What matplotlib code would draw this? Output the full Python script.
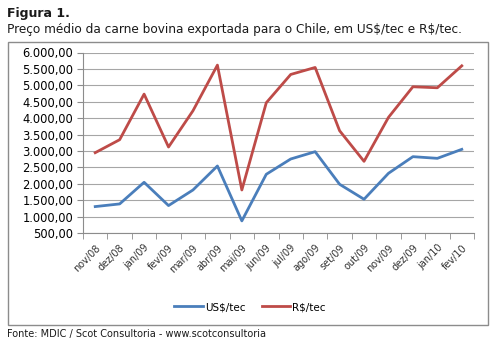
import numpy as np
import matplotlib
matplotlib.use('Agg')
import matplotlib.pyplot as plt
from matplotlib.patches import Rectangle
from matplotlib.ticker import FuncFormatter, FixedLocator

meses = ['nov/08', 'dez/08', 'jan/09', 'fev/09', 'mar/09', 'abr/09', 'mai/09', 'jun/09',
         'jul/09', 'ago/09', 'set/09', 'out/09', 'nov/09', 'dez/09', 'jan/10', 'fev/10']
us_tec = [1305, 1386, 2045, 1336, 1811, 2542, 869, 2289,
          2755, 2978, 1985, 1528, 2319, 2826, 2775, 3049]
rs_tec = [2947, 3343, 4732, 3120, 4225, 5615, 1811, 4469,
          5331, 5544, 3617, 2684, 4023, 4956, 4925, 5594]

plt.rcParams['font.family'] = 'DejaVu Sans'
plt.rcParams['text.parse_math'] = False

W, H = 497, 345
fig = plt.figure(figsize=(W / 100, H / 100), dpi=100)

def px(x0, y0, x1, y1):
    # pixel box -> figure fraction [left, bottom, width, height]
    return [x0 / W, 1 - y1 / H, (x1 - x0) / W, (y1 - y0) / H]

# titles
fig.text(7 / W, 1 - 13 / H, 'Figura 1.', fontsize=9, fontweight='bold', va='center', color='#1a1a1a')
fig.text(7 / W, 1 - 29 / H, 'Preço médio da carne bovina exportada para o Chile, em US$/tec e R$/tec.',
         fontsize=8.7, va='center', color='#1a1a1a')
fig.text(7 / W, 1 - 334 / H, 'Fonte: MDIC / Scot Consultoria - www.scotconsultoria',
         fontsize=7, va='center', color='#1a1a1a')

# chart frame
fig.patches.append(Rectangle((8 / W, 1 - 325 / H), 480 / W, 283 / H, transform=fig.transFigure,
                             fill=False, edgecolor='#8c8c8c', linewidth=1))

ax = fig.add_axes(px(83, 52.5, 474, 233))
x = np.arange(len(meses))
ax.plot(x, us_tec, color='#4A7EBB', linewidth=2, label='US$/tec')
ax.plot(x, rs_tec, color='#BE4B48', linewidth=2, label='R$/tec')

ax.set_xlim(-0.5, len(meses) - 0.5)
ax.set_ylim(500, 6000)
ax.set_yticks(np.arange(500, 6001, 500))
ax.yaxis.set_major_formatter(FuncFormatter(lambda v, p: f'{v:,.2f}'.replace(',', 'X').replace('.', ',').replace('X', '.')))
ax.yaxis.grid(True, color='#a6a6a6', linewidth=0.8)
ax.set_axisbelow(True)

ax.set_xticks(x)
ax.set_xticklabels(meses, rotation=45, ha='right', rotation_mode='anchor', fontsize=7, color='#333333')
ax.xaxis.set_minor_locator(FixedLocator(np.arange(-0.5, len(meses), 1)))
ax.tick_params(axis='x', which='major', length=0, pad=7)
ax.tick_params(axis='x', which='minor', length=4, color='#8c8c8c')
ax.tick_params(axis='y', length=4, color='#8c8c8c', labelsize=8.3, pad=3)

for s in ['top', 'right']:
    ax.spines[s].set_visible(False)
for s in ['left', 'bottom']:
    ax.spines[s].set_color('#8c8c8c')
    ax.spines[s].set_linewidth(0.8)

fig.legend(loc='center', bbox_to_anchor=(250 / W, 1 - 307 / H), ncol=2, frameon=False,
           fontsize=7.5, handlelength=2.7, columnspacing=1.6, handletextpad=0.2)

fig.savefig('out.png', dpi=100)
